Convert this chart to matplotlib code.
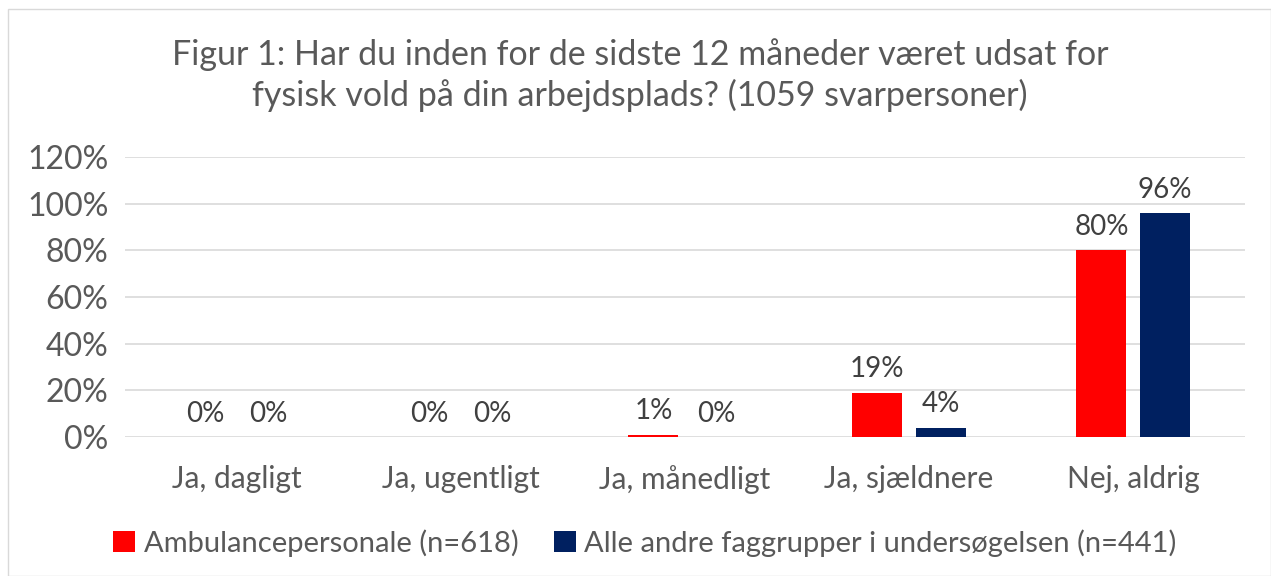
import matplotlib
matplotlib.use("Agg")
import matplotlib.pyplot as plt
from matplotlib.patches import Rectangle
import numpy as np

categories = ["Ja, dagligt", "Ja, ugentligt", "Ja, månedligt", "Ja, sjældnere", "Nej, aldrig"]
ambulance = [0, 0, 1, 19, 80]
others = [0, 0, 0, 4, 96]
series_names = ["Ambulancepersonale (n=618)", "Alle andre faggrupper i undersøgelsen (n=441)"]
yticks = [0, 20, 40, 60, 80, 100, 120]
title = "Figur 1: Har du inden for de sidste 12 måneder været udsat for\nfysisk vold på din arbejdsplads? (1059 svarpersoner)"

plt.rcParams['font.family'] = ['Lato', 'DejaVu Sans']
txt = "#595959"
red = "#FF0000"
navy = "#002060"

fig = plt.figure(figsize=(12.71, 5.76), dpi=100)
fig.patches.append(Rectangle((8/1271, 0), 1 - 8/1271, 1 - 9/576, transform=fig.transFigure,
                             fill=False, edgecolor="#D9D9D9", linewidth=1))
ax = fig.add_axes([125/1271, 1 - 437/576, 1120/1271, 280/576])

x = np.arange(len(categories))
w = 0.223
off = 0.141
b1 = ax.bar(x - off, ambulance, w, color=red, zorder=3, label=series_names[0])
b2 = ax.bar(x + off, others, w, color=navy, zorder=3, label=series_names[1])
for bars, vals in ((b1, ambulance), (b2, others)):
    for r, v in zip(bars, vals):
        ax.text(r.get_x() + r.get_width() / 2, v + 4.5, f"{v}%", ha="center", va="bottom",
                fontsize=20, color="#404040")

ax.set_xlim(-0.5, len(categories) - 0.5)
ax.set_ylim(0, 120)
ax.set_yticks(yticks)
ax.set_yticklabels([f"{t}%" for t in yticks], fontsize=23, color=txt)
ax.set_xticks(x)
ax.set_xticklabels(categories, fontsize=21.5, color=txt)
ax.tick_params(axis="both", length=0)
ax.tick_params(axis="x", pad=20)
ax.tick_params(axis="y", pad=12)
ax.grid(axis="y", color="#D9D9D9", linewidth=1.2, zorder=0)
for s in ax.spines.values():
    s.set_visible(False)

fig.text(640/1271, 1 - 75/576, title, ha="center", va="center", fontsize=24.5, color=txt,
         linespacing=1.3)

fig.legend(handles=[b1, b2], labels=series_names, loc="center", bbox_to_anchor=(645/1271, 1 - 543/576),
           ncol=2, frameon=False, fontsize=21, labelcolor=txt, handlelength=0.75, handleheight=0.75,
           handletextpad=0.3, columnspacing=1.2)

fig.savefig("out.png", dpi=100)
